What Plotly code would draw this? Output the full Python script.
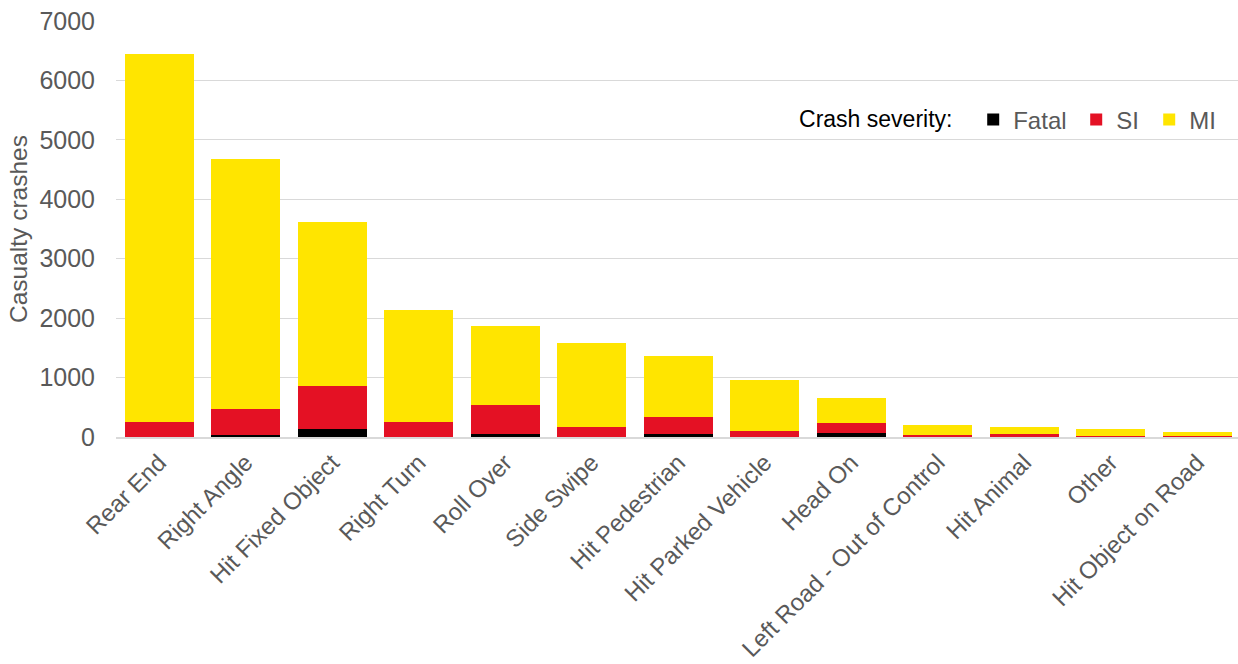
import plotly.graph_objects as go

# Crash types, ordered by total casualty crashes
crash_types = [
    "Rear End", "Right Angle", "Hit Fixed Object", "Right Turn", "Roll Over",
    "Side Swipe", "Hit Pedestrian", "Hit Parked Vehicle", "Head On",
    "Left Road - Out of Control", "Hit Animal", "Other", "Hit Object on Road",
]

# Casualty crashes by severity
fatal = [5, 30, 140, 5, 55, 5, 50, 3, 60, 3, 3, 1, 1]
serious_injury = [253, 440, 713, 242, 489, 158, 292, 103, 181, 27, 52, 9, 9]
minor_injury = [6192, 4210, 2767, 1891, 1325, 1419, 1022, 854, 416, 177, 118, 120, 69]

FONT = "Liberation Sans, Arial, sans-serif"
GREY_TEXT = "#595959"

fig = go.Figure()
fig.add_trace(go.Bar(x=crash_types, y=fatal, name="Fatal", legendwidth=58,
                     marker=dict(color="#000000", line=dict(width=0))))
fig.add_trace(go.Bar(x=crash_types, y=serious_injury, name="SI", legendwidth=28,
                     marker=dict(color="#E41124", line=dict(width=0))))
fig.add_trace(go.Bar(x=crash_types, y=minor_injury, name="MI",
                     marker=dict(color="#FFE500", line=dict(width=0))))

fig.update_layout(
    barmode="stack",
    bargap=0.2,
    width=1238,
    height=664,
    margin=dict(l=116, r=0, t=21, b=227, autoexpand=False),
    paper_bgcolor="white",
    plot_bgcolor="white",
    font=dict(family=FONT, size=24, color=GREY_TEXT),
    showlegend=True,
    legend=dict(
        orientation="h",
        x=0.607, xanchor="left",
        y=0.762, yanchor="middle",
        title=dict(text="Crash severity:  ", font=dict(color="#000000", size=23)),
        font=dict(size=24, color=GREY_TEXT),
        itemwidth=30,
        traceorder="normal",
        bgcolor="rgba(0,0,0,0)",
    ),
    xaxis=dict(
        range=[-0.5, 12.471],
        automargin=False,
        tickangle=-45,
        showgrid=False,
        showline=True,
        linecolor="#d9d9d9",
        linewidth=2,
        ticks="",
        tickfont=dict(size=24, color=GREY_TEXT),
    ),
    yaxis=dict(
        range=[0, 7000],
        automargin=False,
        tickvals=[0, 1000, 2000, 3000, 4000, 5000, 6000, 7000],
        showgrid=True,
        gridcolor="#d9d9d9",
        gridwidth=1,
        zeroline=False,
        ticks="",
        ticklabelstandoff=20,
        tickfont=dict(size=25, color=GREY_TEXT),
        title=dict(text="Casualty crashes", font=dict(size=24.5, color=GREY_TEXT), standoff=4),
    ),
)

fig.write_html("out.html")
